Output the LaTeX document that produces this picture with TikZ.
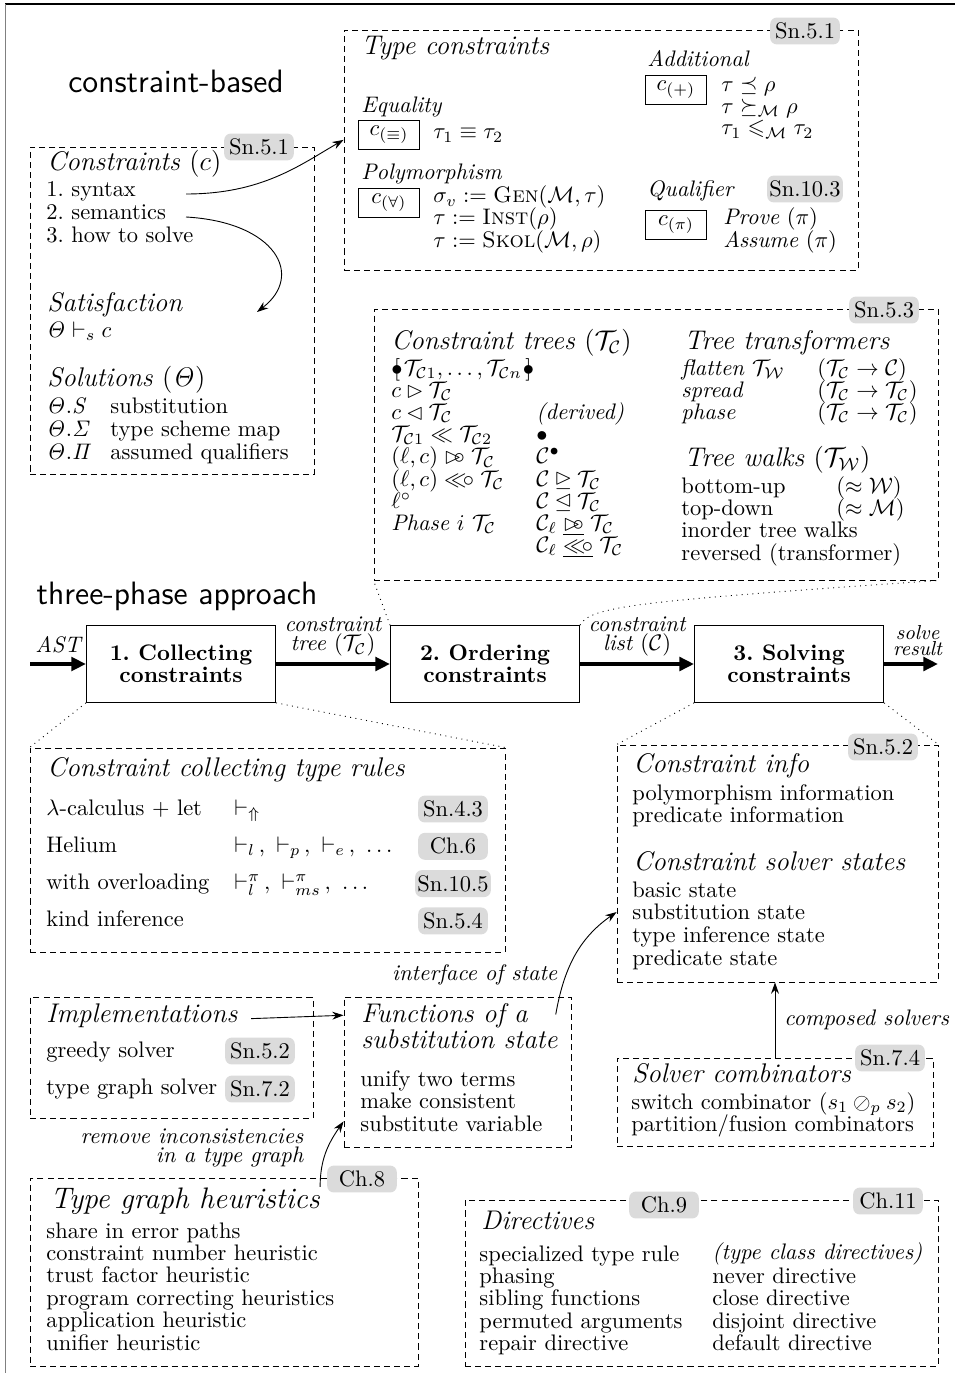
\documentclass[tikz,border=0pt]{standalone}
\usepackage{amsmath,amssymb}
\usetikzlibrary{positioning,arrows.meta,fit}
\newcommand{\TC}{\mathcal{T}_{\mathcal{C}}}
\newcommand{\TCi}[1]{\mathcal{T}_{\mathcal{C}#1}}
\newcommand{\TW}{\mathcal{T}_{\mathcal{W}}}
\newcommand{\bagl}{\mathopen{{\bullet}\mkern-7mu[\mkern3mu}}
\newcommand{\bagr}{\mathclose{\mkern3mu]\mkern-7mu{\bullet}}}
\newcommand{\spr}{\mathrel{{\rhd}\mkern-6.5mu{\circ}}}
\newcommand{\sll}{\mathrel{{\ll}\mkern-3mu{\circ}}}
\tikzset{
  panel/.style={draw, dash pattern=on 2.7pt off 1.8pt, inner sep=0pt},
  tag/.style={fill=gray!28, rounded corners=3pt, minimum width=31pt, minimum height=12pt, inner sep=1pt},
  head/.style={font=\large\itshape, anchor=base west, inner sep=0pt},
  item/.style={anchor=base west, inner sep=0pt},
  cbox/.style={draw, minimum width=27pt, minimum height=13pt, inner sep=0pt},
  phasebox/.style={draw, semithick, font=\bfseries\fontsize{10}{9.6}\selectfont, align=center, minimum width=84pt, minimum height=34pt, inner sep=0pt},
  flow/.style={-{Triangle[length=6.5pt,width=6pt]}, line width=1.8pt},
  link/.style={-{Stealth[length=5pt,width=3.5pt]}},
  zoomline/.style={dotted},
  note/.style={font=\itshape\fontsize{10}{8.6}\selectfont, align=center, inner sep=1pt},
}
\begin{document}
\begin{tikzpicture}[x=0.445pt, y=-0.445pt]
\useasboundingbox (0,0) rectangle (955,1373);
\draw[line width=0.7pt] (5,4) -- (955,4);
\draw[gray] (5,4) -- (5,1373);

% titles
\node[font=\Large\sffamily, anchor=base] (cbt) at (176,93) {constraint-based};
\node[font=\Large\sffamily, anchor=base] (tpt) at (177,604) {three-phase approach};

% type constraints
\node[panel, fit={(344,30) (858,270)}] (tc) {};
\node[tag] (tctag) at (805,31) {Sn.5.1};
\node[head] (tch) at (361,55) {Type constraints};
\node[item, font=\itshape] (eqh) at (361,113) {Equality};
\node[cbox] (ceq) at (389,135) {$c_{(\equiv)}$};
\node[item] (eq) at (433,139) {$\tau_1 \equiv \tau_2$};
\node[item, font=\itshape] (polh) at (361,180) {Polymorphism};
\node[cbox] (call) at (389,203) {$c_{(\forall)}$};
\foreach \txt [count=\i from 0] in {{$\sigma_v := \textsc{Gen}(\mathcal{M},\tau)$}, {$\tau := \textsc{Inst}(\rho)$}, {$\tau := \textsc{Skol}(\mathcal{M},\rho)$}}
  \node[item] (pol\i) at (433,{203+22*\i}) {\txt};
\node[item, font=\itshape] (addh) at (647,67) {Additional};
\node[cbox] (cadd) at (676,90) {$c_{(+)}$};
\foreach \txt [count=\i from 0] in {{$\tau \preceq \rho$}, {$\tau \succeq_{\mathcal{M}} \rho$}, {$\tau_1 \leqslant_{\mathcal{M}} \tau_2$}}
  \node[item] (add\i) at (721,{92+21.5*\i}) {\txt};
\node[item, font=\itshape] (qualh) at (647,197) {Qualifier};
\node[tag] (qtag) at (805,189) {Sn.10.3};
\node[cbox] (cqual) at (676,225) {$c_{(\pi)}$};
\foreach \txt [count=\i from 0] in {{\textit{Prove} $(\pi)$}, {\textit{Assume} $(\pi)$}}
  \node[item] (qual\i) at (723,{225+22*\i}) {\txt};

% constraints
\node[panel, fit={(30,147) (314,474)}] (cs) {};
\node[tag] (cstag) at (259,147) {Sn.5.1};
\node[head] (csh) at (47,171) {Constraints $(c)$};
\foreach \txt [count=\i from 0] in {1.\ syntax, 2.\ semantics, 3.\ how to solve}
  \node[item] (cs\i) at (46,{197+23*\i}) {\txt};
\node[head] (sath) at (47,311) {Satisfaction};
\node[item] (sat) at (46,337) {$\mathit{\Theta} \vdash_s c$};
\node[head] (solh) at (47,386) {Solutions $(\mathit{\Theta})$};
\foreach \sym/\txt [count=\i from 0] in {S/substitution, \Sigma/type scheme map, \Pi/assumed qualifiers} {
  \node[item] (sols\i) at (46,{413+23*\i}) {$\mathit{\Theta}.\mathit{\sym}$};
  \node[item] (solt\i) at (110,{413+23*\i}) {\txt};
}
\coordinate (synend) at (186,194);
\coordinate (semend) at (186,217);
\coordinate (sattip) at (257,312);
\draw[link] (synend) .. controls (262,194) and (300,165) .. ([yshift=4.5pt]tc.west);
\draw[link] (semend) .. controls (275,222) and (305,275) .. (sattip);

% constraint trees
\node[panel, fit={(374,309) (938,580)}] (ct) {};
\node[tag] (cttag) at (884,310) {Sn.5.3};
\node[head] (cth) at (391,349) {Constraint trees $(\TC)$};
\foreach \txt [count=\i from 0] in {{$\bagl \TCi1,\ldots,\TCi{n} \bagr$}, {$c \rhd \TC$}, {$c \lhd \TC$}, {$\TCi1 \ll \TCi2$}, {$(\ell,c) \spr \TC$}, {$(\ell,c) \sll \TC$}, {$\ell^{\circ}$}, {\textit{Phase} $i$ $\TC$}}
  \node[item] (ctl\i) at (391,{375+22.2*\i}) {\txt};
\foreach \txt [count=\i from 2] in {\textit{(derived)}, $\bullet$, $\mathcal{C}^{\bullet}$, $\mathcal{C} \unrhd \TC$, $\mathcal{C} \unlhd \TC$, $\mathcal{C}_\ell \mathrel{\underline{\spr}} \TC$, $\mathcal{C}_\ell \mathrel{\underline{\sll}} \TC$}
  \node[item] (ctm\i) at (536,{375+22.2*\i}) {\txt};
\node[head] (trh) at (684,349) {Tree transformers};
\foreach \nm/\ty [count=\i from 0] in {{\textit{flatten} $\TW$}/{$(\TC \to \mathcal{C})$}, \textit{spread}/{$(\TC \to \TC)$}, \textit{phase}/{$(\TC \to \TC)$}} {
  \node[item] (trn\i) at (681,{375+22.2*\i}) {\nm};
  \node[item] (trt\i) at (817,{375+22.2*\i}) {\ty};
}
\node[head] (twh) at (684,466) {Tree walks $(\TW)$};
\foreach \txt [count=\i from 0] in {bottom-up, top-down, inorder tree walks, reversed (transformer)}
  \node[item] (tw\i) at (681,{493+22.4*\i}) {\txt};
\node[item] (twa0) at (836,493) {$(\approx \mathcal{W})$};
\node[item] (twa1) at (836,515) {$(\approx \mathcal{M})$};

% three phases
\node[phasebox] (col) at (181,664) {1.\ Collecting\\constraints};
\node[phasebox, right=50.7pt of col] (ord) {2.\ Ordering\\constraints};
\node[phasebox, right=50.7pt of ord] (sol) {3.\ Solving\\constraints};
\coordinate (astin) at (30,664);
\coordinate (resout) at (938,664);
\draw[flow] (astin) -- node[note, above=3pt] {AST} (col);
\draw[flow] (col) -- node[note, above=1.5pt] {constraint\\tree $(\TC)$} (ord);
\draw[flow] (ord) -- node[note, above=1.5pt] {constraint\\list $(\mathcal{C})$} (sol);
\draw[flow] (sol) -- node[note, above=2pt, pos=0.62, font=\itshape\fontsize{9}{6.8}\selectfont] {solve\\result} (resout);

% collecting rules
\node[panel, fit={(30,748) (505,952)}] (cc) {};
\node[head] (cch) at (47,776) {Constraint collecting type rules};
\foreach \rule/\sym/\sect [count=\i from 0] in {{$\lambda$-calculus $+$ let}/{$\vdash_{\Uparrow}$}/Sn.4.3, Helium/{$\vdash_l\,,\ \vdash_p\,,\ \vdash_e\,,\ \ldots$}/Ch.6, with overloading/{$\vdash^{\pi}_{l}\,,\ \vdash^{\pi}_{ms}\,,\ \ldots$}/Sn.10.5, kind inference/{}/Sn.5.4} {
  \node[item] (ccr\i) at (46,{815+37.3*\i}) {\rule};
  \node[item] (ccs\i) at (234,{815+37.3*\i}) {\sym};
  \node[tag] (cct\i) at (453,{809+37.3*\i}) {\sect};
}

% constraint info
\node[panel, fit={(617,745) (938,982)}] (ci) {};
\node[tag] (citag) at (883,747) {Sn.5.2};
\node[head] (cih) at (633,772) {Constraint info};
\foreach \txt [count=\i from 0] in {polymorphism information, predicate information}
  \node[item] (cii\i) at (632,{800+22.5*\i}) {\txt};
\node[head] (cssh) at (633,870) {Constraint solver states};
\foreach \txt [count=\i from 0] in {basic state, substitution state, type inference state, predicate state}
  \node[item] (css\i) at (632,{897+22.7*\i}) {\txt};

% zoom lines
\draw[zoomline] (ord.north west) -- (ct.south west);
\draw[zoomline] (ord.north east) .. controls (590,606) and (640,601) .. (ct.south east);
\draw[zoomline] (col.south west) -- (cc.north west);
\draw[zoomline] (col.south east) -- (cc.north east);
\draw[zoomline] (sol.south west) -- (ci.north west);
\draw[zoomline] (sol.south east) -- (ci.north east);

% solver combinators
\node[panel, fit={(617,1058) (933,1146)}] (sc) {};
\node[tag] (sctag) at (890,1058) {Sn.7.4};
\node[head] (sch) at (632,1082) {Solver combinators};
\node[item] (sc0) at (631,1109) {switch combinator $(s_1 \oslash_p s_2)$};
\node[item] (sc1) at (631,1131) {partition/fusion combinators};
\draw[link] (sc.north) -- (sc.north |- ci.south) node[note, midway, right=3pt] {composed solvers};

% implementations
\node[panel, fit={(30,997) (313,1118)}] (im) {};
\node[head] (imh) at (46,1022) {Implementations};
\node[item] (im0) at (46,1057) {greedy solver};
\node[tag] (imt0) at (260,1051) {Sn.5.2};
\node[item] (im1) at (46,1094) {type graph solver};
\node[tag] (imt1) at (260,1089) {Sn.7.2};

% substitution state
\node[panel, fit={(344,997) (571,1147)}] (fs) {};
\node[head] (fsh0) at (361,1022) {Functions of a};
\node[head] (fsh1) at (361,1048) {substitution state};
\foreach \txt [count=\i from 0] in {unify two terms, make consistent, substitute variable}
  \node[item] (fs\i) at (360,{1086+22.5*\i}) {\txt};
\draw[link] ([xshift=6pt,yshift=-1.5pt]imh.east) -- (fs.west |- fsh0);
\draw[link] ([xshift=-7pt,yshift=-8pt]fs.north east) to[out=80,in=215] (ci.west |- css1);
\node[note, anchor=base east] (ifl) at (560,980) {interface of state};

% heuristics
\node[panel, fit={(30,1178) (418,1366)}] (tg) {};
\node[tag] (tgtag) at (362,1179) {Ch.8};
\node[head, font=\fontsize{13.2}{16}\itshape\selectfont] (tgh) at (50,1208) {Type graph heuristics};
\foreach \txt [count=\i from 0] in {share in error paths, constraint number heuristic, trust factor heuristic, program correcting heuristics, application heuristic, unifier heuristic}
  \node[item] (tg\i) at (46,{1238+22.4*\i}) {\txt};
\draw[link] (tgh.north east) to[out=90,in=235] ([yshift=-22pt]fs.west);
\node[note, align=right, anchor=east] (rml) at (306,1148) {remove inconsistencies\\in a type graph};

% directives
\node[panel, fit={(465,1200) (938,1366)}] (di) {};
\node[tag] (ditag0) at (664,1205) {Ch.9};
\node[tag] (ditag1) at (888,1201) {Ch.11};
\node[head] (dih) at (481,1229) {Directives};
\foreach \txt [count=\i from 0] in {specialized type rule, phasing, sibling functions, permuted arguments, repair directive}
  \node[item] (dil\i) at (479,{1261+22.4*\i}) {\txt};
\node[item] (dir0) at (712,1259) {\textit{(type class directives)}};
\foreach \txt [count=\i from 1] in {never directive, close directive, disjoint directive, default directive}
  \node[item] (dir\i) at (712,{1261+22.4*\i}) {\txt};
\end{tikzpicture}
\end{document}
